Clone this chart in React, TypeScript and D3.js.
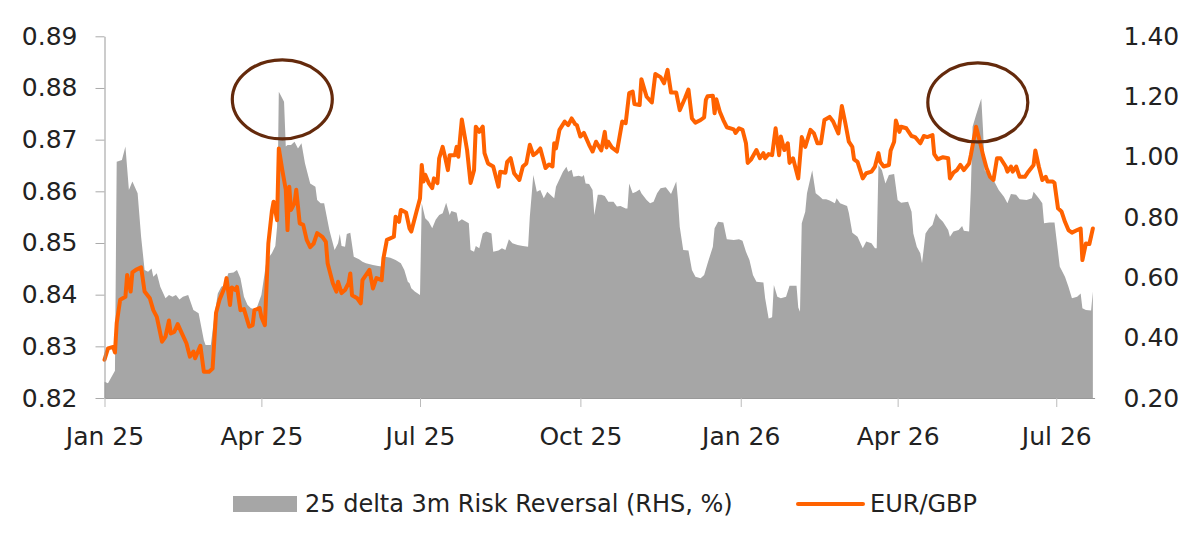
import React, { useRef, useEffect } from 'react';
import * as d3 from 'd3';

// EUR/GBP spot (LHS)
const eurGbp: [string, number][] = [
  ["2025-01-01",0.8274],["2025-01-03",0.8296],["2025-01-06",0.8299],["2025-01-07",0.8288],["2025-01-08",0.8345],
  ["2025-01-10",0.8390],["2025-01-13",0.8396],["2025-01-14",0.8438],["2025-01-16",0.8406],["2025-01-17",0.8443],
  ["2025-01-19",0.8448],["2025-01-22",0.8453],["2025-01-24",0.8406],["2025-01-27",0.8393],["2025-01-29",0.8370],
  ["2025-01-31",0.8357],["2025-02-03",0.8309],["2025-02-05",0.8319],["2025-02-07",0.8350],["2025-02-08",0.8325],
  ["2025-02-10",0.8328],["2025-02-12",0.8343],["2025-02-14",0.8328],["2025-02-17",0.8306],["2025-02-19",0.8280],
  ["2025-02-21",0.8290],["2025-02-22",0.8277],["2025-02-25",0.8301],["2025-02-27",0.8251],["2025-03-02",0.8251],
  ["2025-03-04",0.8257],["2025-03-06",0.8365],["2025-03-08",0.8390],["2025-03-11",0.8415],["2025-03-12",0.8432],
  ["2025-03-14",0.8380],["2025-03-15",0.8414],["2025-03-17",0.8409],["2025-03-18",0.8415],["2025-03-20",0.8370],
  ["2025-03-22",0.8372],["2025-03-25",0.8338],["2025-03-27",0.8341],["2025-03-28",0.8370],["2025-03-31",0.8374],
  ["2025-04-01",0.8357],["2025-04-03",0.8341],["2025-04-05",0.8499],["2025-04-07",0.8561],["2025-04-08",0.8580],
  ["2025-04-10",0.8544],["2025-04-11",0.8683],["2025-04-13",0.8641],["2025-04-15",0.8603],["2025-04-16",0.8525],
  ["2025-04-17",0.8609],["2025-04-18",0.8564],["2025-04-20",0.8577],["2025-04-21",0.8603],["2025-04-23",0.8538],
  ["2025-04-25",0.8535],["2025-04-27",0.8506],["2025-04-29",0.8492],["2025-05-01",0.8499],["2025-05-03",0.8519],
  ["2025-05-06",0.8512],["2025-05-08",0.8502],["2025-05-09",0.8461],["2025-05-12",0.8422],["2025-05-14",0.8406],
  ["2025-05-15",0.8425],["2025-05-17",0.8403],["2025-05-19",0.8409],["2025-05-21",0.8422],["2025-05-22",0.8441],
  ["2025-05-23",0.8399],["2025-05-26",0.8393],["2025-05-28",0.8383],["2025-05-29",0.8428],["2025-06-02",0.8448],
  ["2025-06-04",0.8412],["2025-06-06",0.8432],["2025-06-09",0.8428],["2025-06-10",0.8470],["2025-06-12",0.8506],
  ["2025-06-16",0.8512],["2025-06-17",0.8551],["2025-06-19",0.8541],["2025-06-20",0.8564],["2025-06-23",0.8559],
  ["2025-06-25",0.8528],["2025-06-26",0.8522],["2025-06-29",0.8561],["2025-07-01",0.8586],["2025-07-02",0.8651],
  ["2025-07-03",0.8619],["2025-07-04",0.8632],["2025-07-06",0.8616],["2025-07-08",0.8606],["2025-07-09",0.8625],
  ["2025-07-11",0.8616],["2025-07-12",0.8664],["2025-07-14",0.8686],["2025-07-15",0.8672],["2025-07-17",0.8641],
  ["2025-07-18",0.8670],["2025-07-21",0.8670],["2025-07-22",0.8686],["2025-07-23",0.8667],["2025-07-25",0.8739],
  ["2025-07-28",0.8680],["2025-07-30",0.8616],["2025-08-01",0.8641],["2025-08-02",0.8725],["2025-08-04",0.8715],
  ["2025-08-06",0.8725],["2025-08-07",0.8674],["2025-08-09",0.8654],["2025-08-12",0.8648],["2025-08-15",0.8609],
  ["2025-08-16",0.8638],["2025-08-19",0.8636],["2025-08-20",0.8657],["2025-08-22",0.8664],["2025-08-24",0.8635],
  ["2025-08-27",0.8622],["2025-08-29",0.8648],["2025-08-31",0.8654],["2025-09-02",0.8690],["2025-09-04",0.8670],
  ["2025-09-06",0.8675],["2025-09-08",0.8683],["2025-09-11",0.8645],["2025-09-13",0.8652],["2025-09-15",0.8648],
  ["2025-09-16",0.8693],["2025-09-17",0.8683],["2025-09-19",0.8719],["2025-09-22",0.8735],["2025-09-24",0.8728],
  ["2025-09-26",0.8741],["2025-09-28",0.8730],["2025-09-29",0.8728],["2025-10-01",0.8706],["2025-10-03",0.8713],
  ["2025-10-06",0.8690],["2025-10-08",0.8677],["2025-10-10",0.8696],["2025-10-13",0.8679],["2025-10-15",0.8715],
  ["2025-10-16",0.8685],["2025-10-17",0.8696],["2025-10-19",0.8685],["2025-10-22",0.8677],["2025-10-25",0.8735],
  ["2025-10-27",0.8732],["2025-10-29",0.8790],["2025-10-31",0.8793],["2025-11-01",0.8769],["2025-11-04",0.8767],
  ["2025-11-05",0.8817],["2025-11-08",0.8783],["2025-11-11",0.8772],["2025-11-13",0.8827],["2025-11-16",0.8821],
  ["2025-11-18",0.8809],["2025-11-20",0.8835],["2025-11-22",0.8791],["2025-11-25",0.8791],["2025-11-27",0.8757],
  ["2025-11-30",0.8780],["2025-12-02",0.8797],["2025-12-04",0.8741],["2025-12-06",0.8733],["2025-12-09",0.8738],
  ["2025-12-11",0.8743],["2025-12-12",0.8777],["2025-12-13",0.8784],["2025-12-16",0.8785],["2025-12-17",0.8751],
  ["2025-12-18",0.8778],["2025-12-20",0.8754],["2025-12-22",0.8738],["2025-12-24",0.8724],["2025-12-28",0.8720],
  ["2025-12-29",0.8713],["2025-12-31",0.8722],["2026-01-02",0.8719],["2026-01-04",0.8693],["2026-01-05",0.8655],
  ["2026-01-07",0.8662],["2026-01-10",0.8680],["2026-01-12",0.8664],["2026-01-14",0.8674],["2026-01-15",0.8664],
  ["2026-01-17",0.8672],["2026-01-19",0.8670],["2026-01-21",0.8722],["2026-01-23",0.8670],["2026-01-24",0.8706],
  ["2026-01-26",0.8680],["2026-01-28",0.8693],["2026-01-29",0.8655],["2026-01-31",0.8664],["2026-02-03",0.8625],
  ["2026-02-05",0.8705],["2026-02-07",0.8686],["2026-02-10",0.8719],["2026-02-12",0.8712],["2026-02-14",0.8693],
  ["2026-02-16",0.8693],["2026-02-18",0.8738],["2026-02-21",0.8744],["2026-02-23",0.8735],["2026-02-26",0.8712],
  ["2026-02-28",0.8765],["2026-03-02",0.8732],["2026-03-04",0.8696],["2026-03-06",0.8686],["2026-03-07",0.8662],
  ["2026-03-09",0.8657],["2026-03-12",0.8625],["2026-03-14",0.8635],["2026-03-17",0.8638],["2026-03-19",0.8648],
  ["2026-03-21",0.8674],["2026-03-22",0.8657],["2026-03-24",0.8648],["2026-03-27",0.8651],["2026-03-28",0.8679],
  ["2026-03-30",0.8696],["2026-03-31",0.8737],["2026-04-02",0.8715],["2026-04-03",0.8725],["2026-04-06",0.8722],
  ["2026-04-09",0.8707],["2026-04-11",0.8705],["2026-04-14",0.8693],["2026-04-16",0.8707],["2026-04-18",0.8705],
  ["2026-04-21",0.8709],["2026-04-22",0.8672],["2026-04-24",0.8662],["2026-04-27",0.8666],["2026-04-30",0.8664],
  ["2026-05-01",0.8625],["2026-05-03",0.8636],["2026-05-05",0.8641],["2026-05-07",0.8651],["2026-05-09",0.8641],
  ["2026-05-12",0.8654],["2026-05-13",0.8670],["2026-05-16",0.8725],["2026-05-18",0.8699],["2026-05-20",0.8670],
  ["2026-05-22",0.8645],["2026-05-24",0.8628],["2026-05-26",0.8622],["2026-05-28",0.8664],["2026-05-30",0.8664],
  ["2026-06-02",0.8648],["2026-06-03",0.8638],["2026-06-05",0.8648],["2026-06-06",0.8638],["2026-06-08",0.8648],
  ["2026-06-10",0.8628],["2026-06-13",0.8628],["2026-06-15",0.8638],["2026-06-18",0.8651],["2026-06-19",0.8679],
  ["2026-06-21",0.8648],["2026-06-23",0.8622],["2026-06-25",0.8628],["2026-06-26",0.8619],["2026-06-29",0.8619],
  ["2026-06-30",0.8616],["2026-07-02",0.8567],["2026-07-04",0.8561],["2026-07-06",0.8541],["2026-07-08",0.8525],
  ["2026-07-10",0.8520],["2026-07-13",0.8525],["2026-07-15",0.8528],["2026-07-16",0.8467],["2026-07-18",0.8499],
  ["2026-07-20",0.8498],["2026-07-22",0.8528],
];

// 25 delta 3m risk reversal, % (RHS)
const riskReversal: [string, number][] = [
  ["2025-01-01",0.254],["2025-01-03",0.249],["2025-01-07",0.290],["2025-01-08",0.984],["2025-01-11",0.990],
  ["2025-01-13",1.034],["2025-01-15",0.890],["2025-01-17",0.918],["2025-01-20",0.879],["2025-01-22",0.735],
  ["2025-01-24",0.625],["2025-01-26",0.619],["2025-01-28",0.630],["2025-01-29",0.602],["2025-01-31",0.614],
  ["2025-02-02",0.569],["2025-02-05",0.531],["2025-02-07",0.542],["2025-02-09",0.536],["2025-02-11",0.542],
  ["2025-02-13",0.527],["2025-02-15",0.536],["2025-02-18",0.542],["2025-02-21",0.492],["2025-02-24",0.481],
  ["2025-02-27",0.392],["2025-02-28",0.376],["2025-03-03",0.376],["2025-03-05",0.470],["2025-03-07",0.547],
  ["2025-03-09",0.569],["2025-03-11",0.575],["2025-03-13",0.614],["2025-03-16",0.616],["2025-03-18",0.625],
  ["2025-03-20",0.597],["2025-03-22",0.536],["2025-03-24",0.509],["2025-03-26",0.498],["2025-03-29",0.494],
  ["2025-04-01",0.542],["2025-04-04",0.658],["2025-04-07",0.680],["2025-04-09",0.704],["2025-04-10",0.768],
  ["2025-04-11",1.216],["2025-04-12",1.205],["2025-04-14",1.183],["2025-04-15",1.034],["2025-04-16",1.039],
  ["2025-04-18",1.039],["2025-04-20",1.050],["2025-04-22",1.028],["2025-04-24",1.045],["2025-04-26",0.979],
  ["2025-04-29",0.912],["2025-05-02",0.901],["2025-05-03",0.857],["2025-05-05",0.846],["2025-05-07",0.846],
  ["2025-05-10",0.757],["2025-05-13",0.691],["2025-05-15",0.713],["2025-05-16",0.744],["2025-05-17",0.704],
  ["2025-05-19",0.702],["2025-05-20",0.744],["2025-05-22",0.748],["2025-05-24",0.669],["2025-05-27",0.660],
  ["2025-05-29",0.652],["2025-05-31",0.647],["2025-06-04",0.641],["2025-06-07",0.638],["2025-06-09",0.636],
  ["2025-06-11",0.669],["2025-06-14",0.665],["2025-06-17",0.658],["2025-06-20",0.647],["2025-06-22",0.625],
  ["2025-06-24",0.586],["2025-06-25",0.581],["2025-06-26",0.564],["2025-06-28",0.553],["2025-07-01",0.542],
  ["2025-07-02",0.846],["2025-07-04",0.796],["2025-07-06",0.785],["2025-07-08",0.763],["2025-07-10",0.791],
  ["2025-07-12",0.807],["2025-07-14",0.813],["2025-07-16",0.848],["2025-07-18",0.807],["2025-07-19",0.820],
  ["2025-07-22",0.815],["2025-07-23",0.785],["2025-07-25",0.793],["2025-07-29",0.780],["2025-07-30",0.691],
  ["2025-08-01",0.685],["2025-08-02",0.704],["2025-08-04",0.697],["2025-08-06",0.746],["2025-08-08",0.752],
  ["2025-08-11",0.746],["2025-08-12",0.685],["2025-08-15",0.689],["2025-08-17",0.697],["2025-08-19",0.691],
  ["2025-08-21",0.727],["2025-08-23",0.713],["2025-08-26",0.708],["2025-08-29",0.704],["2025-09-01",0.702],
  ["2025-09-02",0.802],["2025-09-04",0.940],["2025-09-06",0.884],["2025-09-08",0.890],["2025-09-10",0.863],
  ["2025-09-12",0.884],["2025-09-15",0.868],["2025-09-16",0.863],["2025-09-17",0.901],["2025-09-19",0.926],
  ["2025-09-21",0.951],["2025-09-23",0.967],["2025-09-24",0.951],["2025-09-26",0.957],["2025-09-27",0.934],
  ["2025-09-30",0.937],["2025-10-02",0.934],["2025-10-03",0.940],["2025-10-04",0.912],["2025-10-06",0.910],
  ["2025-10-08",0.890],["2025-10-09",0.807],["2025-10-11",0.874],["2025-10-13",0.874],["2025-10-15",0.870],
  ["2025-10-17",0.851],["2025-10-20",0.851],["2025-10-22",0.835],["2025-10-24",0.837],["2025-10-27",0.829],
  ["2025-10-28",0.829],["2025-10-29",0.912],["2025-10-31",0.879],["2025-11-02",0.884],["2025-11-04",0.892],
  ["2025-11-05",0.879],["2025-11-08",0.857],["2025-11-10",0.846],["2025-11-12",0.851],["2025-11-14",0.879],
  ["2025-11-16",0.896],["2025-11-19",0.899],["2025-11-20",0.892],["2025-11-22",0.877],["2025-11-25",0.918],
  ["2025-11-26",0.857],["2025-11-27",0.768],["2025-11-29",0.691],["2025-12-02",0.689],["2025-12-04",0.625],
  ["2025-12-06",0.602],["2025-12-09",0.597],["2025-12-11",0.608],["2025-12-13",0.647],["2025-12-16",0.702],
  ["2025-12-17",0.763],["2025-12-19",0.785],["2025-12-22",0.782],["2025-12-24",0.727],["2025-12-28",0.724],
  ["2025-12-31",0.727],["2026-01-02",0.722],["2026-01-04",0.685],["2026-01-06",0.658],["2026-01-08",0.608],
  ["2026-01-10",0.586],["2026-01-14",0.583],["2026-01-15",0.531],["2026-01-17",0.464],["2026-01-19",0.468],
  ["2026-01-20",0.575],["2026-01-22",0.536],["2026-01-24",0.531],["2026-01-27",0.536],["2026-01-29",0.572],
  ["2026-02-02",0.572],["2026-02-03",0.500],["2026-02-04",0.486],["2026-02-05",0.780],["2026-02-07",0.818],
  ["2026-02-08",0.879],["2026-02-11",0.956],["2026-02-13",0.879],["2026-02-15",0.870],["2026-02-17",0.859],
  ["2026-02-19",0.859],["2026-02-21",0.855],["2026-02-24",0.846],["2026-02-25",0.863],["2026-02-27",0.846],
  ["2026-03-03",0.837],["2026-03-04",0.815],["2026-03-06",0.748],["2026-03-09",0.735],["2026-03-12",0.697],
  ["2026-03-14",0.719],["2026-03-17",0.713],["2026-03-19",0.697],["2026-03-20",0.697],["2026-03-21",0.973],
  ["2026-03-23",0.956],["2026-03-25",0.912],["2026-03-27",0.940],["2026-03-30",0.943],["2026-04-01",0.857],
  ["2026-04-03",0.848],["2026-04-07",0.851],["2026-04-09",0.818],["2026-04-10",0.746],["2026-04-12",0.702],
  ["2026-04-14",0.680],["2026-04-15",0.647],["2026-04-17",0.746],["2026-04-19",0.763],["2026-04-21",0.774],
  ["2026-04-23",0.813],["2026-04-25",0.796],["2026-04-27",0.785],["2026-04-30",0.757],["2026-05-01",0.735],
  ["2026-05-03",0.752],["2026-05-06",0.757],["2026-05-08",0.771],["2026-05-09",0.755],["2026-05-12",0.752],
  ["2026-05-13",0.890],["2026-05-14",1.100],["2026-05-16",1.139],["2026-05-19",1.194],["2026-05-20",1.089],
  ["2026-05-21",0.956],["2026-05-24",0.934],["2026-05-26",0.923],["2026-05-29",0.890],["2026-06-01",0.868],
  ["2026-06-03",0.846],["2026-06-05",0.877],["2026-06-08",0.874],["2026-06-10",0.859],["2026-06-14",0.857],
  ["2026-06-17",0.863],["2026-06-18",0.884],["2026-06-21",0.863],["2026-06-23",0.846],["2026-06-24",0.780],
  ["2026-06-27",0.782],["2026-06-30",0.782],["2026-07-02",0.685],["2026-07-03",0.636],["2026-07-06",0.602],
  ["2026-07-08",0.569],["2026-07-10",0.531],["2026-07-13",0.536],["2026-07-15",0.547],["2026-07-16",0.498],
  ["2026-07-18",0.492],["2026-07-21",0.490],["2026-07-22",0.553],
];

const leftTicks = [0.82, 0.83, 0.84, 0.85, 0.86, 0.87, 0.88, 0.89];
const rightTicks = [0.2, 0.4, 0.6, 0.8, 1.0, 1.2, 1.4];
const dateRange = ["2025-01-01", "2026-07-23"];
// circled risk reversal spikes (date, EUR/GBP level of centre)
const highlights: [string, number][] = [["2025-04-13", 0.8778], ["2026-05-17", 0.8772]];
const rrLabel = "25 delta 3m Risk Reversal (RHS, %)";
const fxLabel = "EUR/GBP";

const FONT = "'DejaVu Sans', sans-serif";
const TEXT = "#222";
const GREY = "#a6a6a6";
const ORANGE = "#ff6200";

const App: React.FC = () => {
  const svgRef = useRef<SVGSVGElement>(null);

  useEffect(() => {
    if (!svgRef.current) return;
    const svg = d3.select(svgRef.current);
    svg.selectAll("*").remove();

    const parse = d3.utcParse("%Y-%m-%d");
    const top = 36.3, bottom = 398, left = 104.5, right = 1094.6;

    const x = d3.scaleUtc()
      .domain(dateRange.map(d => parse(d) as Date))
      .range([left, right]);
    const yL = d3.scaleLinear().domain([0.82, 0.89]).range([bottom, top]);
    const yR = d3.scaleLinear().domain([0.2, 1.4]).range([bottom, top]);

    svg.append("rect").attr("width", 1200).attr("height", 552).attr("fill", "white");

    // risk reversal area
    const area = d3.area<[string, number]>()
      .x(d => x(parse(d[0]) as Date))
      .y0(bottom)
      .y1(d => yR(d[1]));
    svg.append("path")
      .datum(riskReversal)
      .attr("d", area)
      .attr("fill", GREY);

    // EUR/GBP line
    const line = d3.line<[string, number]>()
      .x(d => x(parse(d[0]) as Date))
      .y(d => yL(d[1]));
    svg.append("path")
      .datum(eurGbp)
      .attr("d", line)
      .attr("fill", "none")
      .attr("stroke", ORANGE)
      .attr("stroke-width", 4)
      .attr("stroke-linejoin", "round")
      .attr("stroke-linecap", "round");

    // left axis
    const gL = svg.append("g")
      .attr("transform", `translate(${left},0)`)
      .call(d3.axisLeft(yL).tickValues(leftTicks).tickFormat(d3.format(".2f")).tickSize(9).tickSizeOuter(0).tickPadding(18));
    gL.select(".domain").attr("stroke", "#999");
    gL.selectAll(".tick line").attr("stroke", "#aaa");

    // right axis (labels only)
    const gR = svg.append("g")
      .attr("transform", `translate(${right},0)`)
      .call(d3.axisRight(yR).tickValues(rightTicks).tickFormat(d3.format(".2f")).tickSize(0).tickPadding(29));
    gR.select(".domain").remove();

    // bottom axis
    const gB = svg.append("g")
      .attr("transform", `translate(0,${bottom})`)
      .call(d3.axisBottom(x).ticks(d3.utcMonth.every(3)).tickFormat(d3.utcFormat("%b %y") as any).tickSize(9).tickSizeOuter(0).tickPadding(20));
    gB.select(".domain").attr("stroke", "#999");
    gB.selectAll(".tick line").attr("stroke", "#bbb");

    [gL, gR, gB].forEach(g => {
      g.attr("font-family", FONT).attr("font-size", 25);
      g.selectAll(".tick text").attr("fill", TEXT);
    });

    // highlight circles
    svg.selectAll(".highlight")
      .data(highlights)
      .enter()
      .append("ellipse")
      .attr("class", "highlight")
      .attr("cx", d => x(parse(d[0]) as Date))
      .attr("cy", d => yL(d[1]))
      .attr("rx", 50)
      .attr("ry", 39.5)
      .attr("fill", "none")
      .attr("stroke", "#642a0c")
      .attr("stroke-width", 3.2);

    // legend
    const legend = svg.append("g").attr("font-family", FONT).attr("font-size", 24).attr("fill", TEXT);
    legend.append("rect").attr("x", 233).attr("y", 496).attr("width", 64).attr("height", 16).attr("fill", GREY);
    legend.append("text").attr("x", 305).attr("y", 512).text(rrLabel);
    legend.append("line").attr("x1", 798).attr("x2", 863).attr("y1", 504).attr("y2", 504)
      .attr("stroke", ORANGE).attr("stroke-width", 4).attr("stroke-linecap", "round");
    legend.append("text").attr("x", 870).attr("y", 512).text(fxLabel);
  }, []);

  return (
    <svg
      ref={svgRef}
      width={1200}
      height={552}
      style={{ position: 'absolute', left: 0, top: 0 }}
    />
  );
};

export default App;
